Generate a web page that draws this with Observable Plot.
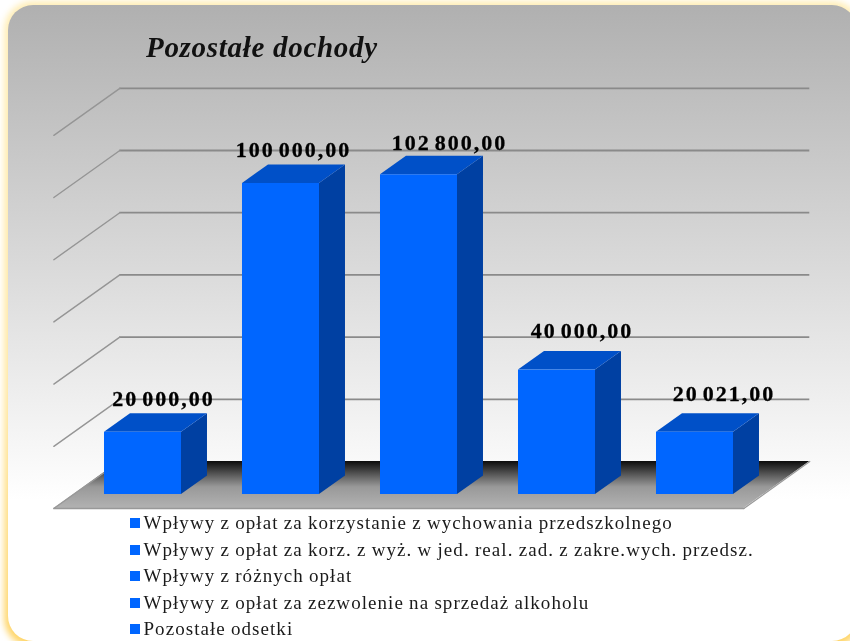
<!DOCTYPE html>
<html lang="pl">
<head>
<meta charset="utf-8">
<script src="https://cdn.jsdelivr.net/npm/d3@7"></script>
<script src="https://cdn.jsdelivr.net/npm/@observablehq/plot@0.6"></script>
<style>
  html, body { margin: 0; padding: 0; background: #fff; overflow: hidden; }
  #page { position: relative; width: 850px; height: 641px; overflow: hidden; background: #fff; }
  #glow { position: absolute; left: 4px; top: 1px; width: 857px; height: 646px; border-radius: 29px;
    background: linear-gradient(#ffeeb8 0, #ffe8a4 60%, #ffd568 100%); filter: blur(3px); }
  #panel { position: absolute; left: 8px; top: 5px; width: 849px; height: 636px; border-radius: 25px;
    background: linear-gradient(#b0b0b0 0, #ffffff 495px); }
  #chart { position: absolute; left: 0; top: 0; filter: blur(0.4px); }
  #chart svg { background: transparent; display: block; }
  #chart svg text { font-family: "Liberation Serif", serif; font-weight: bold; font-size: 22px;
    letter-spacing: 2px; word-spacing: -3.5px; fill: #000; stroke: #000; stroke-width: 0.3px; }
  #title { position: absolute; left: 146px; top: 31px; font: italic bold 29px "Liberation Serif", serif;
    letter-spacing: 0.7px; color: #111; white-space: nowrap; filter: blur(0.4px); }
  #legend { position: absolute; left: 130px; top: 510px; font: 19px "Liberation Serif", serif;
    color: #1a1a1a; white-space: nowrap; filter: blur(0.3px); }
  .row { display: flex; align-items: center; height: 26.5px; letter-spacing: 1.05px; word-spacing: -0.55px; }
  .swatch { width: 10px; height: 10px; background: #0066ff; margin-right: 3.5px; flex: none; }
</style>
</head>
<body>
<div id="page">
  <div id="glow"></div>
  <div id="panel"></div>
  <svg width="0" height="0" style="position:absolute">
    <defs>
      <linearGradient id="floorFill" x1="0" y1="0" x2="0" y2="1">
        <stop offset="0" stop-color="#0c0c0c"/>
        <stop offset="0.34" stop-color="#666"/>
        <stop offset="0.55" stop-color="#999"/>
        <stop offset="1" stop-color="#b2b2b2"/>
      </linearGradient>
    </defs>
  </svg>
  <div id="chart"></div>
  <div id="title"></div>
  <div id="legend"></div>
</div>
<script>
const titleText = "Pozostałe dochody";
const categories = [
  "Wpływy z opłat za korzystanie z wychowania przedszkolnego",
  "Wpływy z opłat za korz. z wyż. w jed. real. zad. z zakre.wych. przedsz.",
  "Wpływy z różnych opłat",
  "Wpływy z opłat za zezwolenie na sprzedaż alkoholu",
  "Pozostałe odsetki"
];
const values = [20000, 100000, 102800, 40000, 20021];
const gridValues = [20000, 40000, 60000, 80000, 100000, 120000];
// The source labels were moved by hand: nudges in category units and in value units.
const labelNudgeX = [0.149, 0.091, 0.221, 0.181, 0.21];
const labelNudgeY = [640, 640, 0, 2570, 2250];

// Oblique depth: how far one full depth unit moves a point, in data units.
const depthX = 0.478;
const depthY = 15113;
const zFloorFront = -0.298;
const zBarBack = 0.394;
const zWall = 0.702;
const barInset = 0.2246;
const barWidth = 0.558;
const n = categories.length;

const px = (x, z) => x + z * depthX;
const py = (v, z) => v + z * depthY;
const fmt = v => Math.floor(v).toString().replace(/\B(?=(\d{3})+$)/g, " ") + ",00";

const bars = values.map((v, i) => ({
  v, x1: i + barInset, x2: i + barInset + barWidth, label: fmt(v),
  labelX: i + barInset + barWidth / 2 + labelNudgeX[i],
  labelY: py(v, zBarBack) + labelNudgeY[i]
}));

const leftDiagonals = gridValues.flatMap(v => [
  {g: v, x: px(0, zFloorFront), y: py(v, zFloorFront)},
  {g: v, x: px(0, zWall), y: py(v, zWall)}
]);

// floor parallelogram: back edge to front edge
const floorEdge = [
  {y: py(0, zWall), x1: px(0, zWall), x2: px(n, zWall)},
  {y: py(0, zFloorFront), x1: px(0, zFloorFront), x2: px(n, zFloorFront)}
];

const wallLeft = px(0, zWall);
const wallRight = px(n, zWall);

const marks = [
  // gridlines on the back wall and left side
  Plot.ruleY(gridValues, {
    y: v => py(v, zWall), x1: wallLeft, x2: wallRight,
    stroke: "#8a8a8a", strokeWidth: 1.8
  }),
  Plot.line(leftDiagonals, {x: "x", y: "y", z: "g", stroke: "#959595", strokeWidth: 1.4}),
  // floor
  Plot.areaX(floorEdge, {y: "y", x1: "x1", x2: "x2", fill: "url(#floorFill)"}),
  Plot.line(floorEdge.slice(1).flatMap(d => [{x: d.x1, y: d.y}, {x: d.x2, y: d.y}]), {
    x: "x", y: "y", stroke: "#999", strokeWidth: 1.4
  }),
  Plot.line(floorEdge.map(d => ({x: d.x1, y: d.y})), {x: "x", y: "y", stroke: "#999", strokeWidth: 1.2}),
  Plot.line(floorEdge.map(d => ({x: d.x2, y: d.y})), {x: "x", y: "y", stroke: "#999", strokeWidth: 1.2})
];

for (const b of bars) {
  // side face
  marks.push(Plot.areaY([
    {x: b.x2, y1: 0, y2: b.v},
    {x: px(b.x2, zBarBack), y1: py(0, zBarBack), y2: py(b.v, zBarBack)}
  ], {x: "x", y1: "y1", y2: "y2", fill: "#0040a2"}));
  // top face
  marks.push(Plot.areaX([
    {y: b.v, x1: b.x1, x2: b.x2},
    {y: py(b.v, zBarBack), x1: px(b.x1, zBarBack), x2: px(b.x2, zBarBack)}
  ], {y: "y", x1: "x1", x2: "x2", fill: "#0050c8"}));
}
// front faces
marks.push(Plot.rect(bars, {x1: "x1", x2: "x2", y1: 0, y2: "v", fill: "#0066ff"}));
// value labels
marks.push(Plot.text(bars, {
  x: "labelX",
  y: "labelY",
  text: "label",
  textAnchor: "middle",
  lineAnchor: "bottom",
  dy: -6
}));

const chart = Plot.plot({
  width: 850,
  height: 641,
  margin: 0,
  x: {type: "linear", domain: [0, n], range: [73, 763], axis: null},
  y: {type: "linear", domain: [0, 120000], range: [494, 120.8], axis: null},
  marks
});
document.getElementById("chart").appendChild(chart);

document.getElementById("title").textContent = titleText;
const legend = document.getElementById("legend");
for (const c of categories) {
  const row = document.createElement("div");
  row.className = "row";
  const sw = document.createElement("span");
  sw.className = "swatch";
  const t = document.createElement("span");
  t.textContent = c;
  row.append(sw, t);
  legend.append(row);
}
</script>
</body>
</html>
